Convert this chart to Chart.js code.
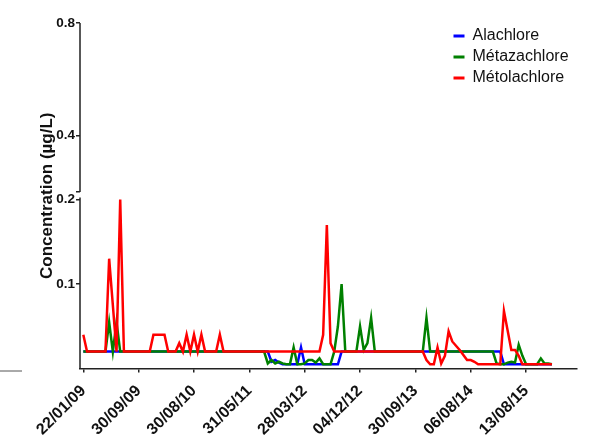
<!DOCTYPE html>
<html><head><meta charset="utf-8">
<script src="https://cdn.jsdelivr.net/npm/chart.js@4.4.0/dist/chart.umd.min.js"></script>
<style>html,body{margin:0;padding:0;background:#fff;}</style>
</head><body>
<canvas id="c" width="599" height="441"></canvas>
<script>
// ---- data ----
const xTickLabels = ['22/01/09','30/09/09','30/08/10','31/05/11','28/03/12','04/12/12','30/09/13','06/08/14','13/08/15'];
const samplesPerLabel = 15;
const seriesNames = ['Alachlore', 'Métazachlore', 'Métolachlore'];
const seriesColors = ['#0000ff', '#008000', '#ff0000'];
const yTitle = 'Concentration (µg/L)';
const yLowTicks = [0.1, 0.2];
const yHighTicks = [0.4, 0.8];
const yBreak = 0.2;

const alachlore = [
  0.02,0.02,0.02,0.02,0.02,0.02,0.02,0.02,0.02,0.02,
  0.02,0.02,0.02,0.02,0.02,0.02,0.02,0.02,0.02,0.02,
  0.02,0.02,0.02,0.02,0.02,0.02,0.02,0.02,0.02,0.02,
  0.02,0.02,0.02,0.02,0.02,0.02,0.02,0.02,0.02,0.02,
  0.02,0.02,0.02,0.02,0.02,0.02,0.02,0.02,0.02,0.02,
  0.02,0.008,0.01,0.007,0.005,0.005,0.005,0.005,0.005,0.025,
  0.005,0.005,0.005,0.005,0.005,0.005,0.005,0.005,0.005,0.005,
  0.02,0.02,0.02,0.02,0.02,0.02,0.02,0.02,0.02,0.02,
  0.02,0.02,0.02,0.02,0.02,0.02,0.02,0.02,0.02,0.02,
  0.02,0.02,0.02,0.02,0.02,0.02,0.02,0.02,0.02,0.02,
  0.02,0.02,0.02,0.02,0.02,0.02,0.02,0.02,0.02,0.02,
  0.02,0.02,0.02,0.02,0.005,0.005,0.005,0.005,0.005,0.005,
  0.005,0.005,0.005,0.005,0.005,0.005,0.005,0.005
];
const metazachlore = [
  0.02,0.02,0.02,0.02,0.02,0.02,0.02,0.055,0.02,0.055,
  0.02,0.02,0.02,0.02,0.02,0.02,0.02,0.02,0.02,0.02,
  0.02,0.02,0.02,0.02,0.02,0.02,0.02,0.02,0.02,0.02,
  0.02,0.02,0.02,0.02,0.02,0.02,0.02,0.02,0.02,0.02,
  0.02,0.02,0.02,0.02,0.02,0.02,0.02,0.02,0.02,0.02,
  0.006,0.01,0.006,0.008,0.006,0.005,0.005,0.025,0.005,0.005,
  0.006,0.01,0.01,0.007,0.012,0.005,0.005,0.005,0.02,0.05,
  0.1,0.02,0.02,0.02,0.02,0.05,0.022,0.03,0.06,0.02,
  0.02,0.02,0.02,0.02,0.02,0.02,0.02,0.02,0.02,0.02,
  0.02,0.02,0.02,0.06,0.02,0.02,0.02,0.02,0.02,0.02,
  0.02,0.02,0.02,0.02,0.02,0.02,0.02,0.02,0.02,0.02,
  0.02,0.02,0.006,0.005,0.005,0.007,0.008,0.007,0.028,0.015,
  0.005,0.005,0.005,0.005,0.012,0.006,0.006,0.005
];
const metolachlore = [
  0.04,0.02,0.02,0.02,0.02,0.02,0.02,0.13,0.075,0.02,
  0.2,0.02,0.02,0.02,0.02,0.02,0.02,0.02,0.02,0.04,
  0.04,0.04,0.04,0.02,0.02,0.02,0.03,0.02,0.04,0.02,
  0.04,0.02,0.04,0.02,0.02,0.02,0.02,0.04,0.02,0.02,
  0.02,0.02,0.02,0.02,0.02,0.02,0.02,0.02,0.02,0.02,
  0.02,0.02,0.02,0.02,0.02,0.02,0.02,0.02,0.02,0.02,
  0.02,0.02,0.02,0.02,0.02,0.04,0.17,0.03,0.02,0.02,
  0.02,0.02,0.02,0.02,0.02,0.02,0.02,0.02,0.02,0.02,
  0.02,0.02,0.02,0.02,0.02,0.02,0.02,0.02,0.02,0.02,
  0.02,0.02,0.02,0.01,0.005,0.005,0.025,0.006,0.015,0.044,
  0.032,0.027,0.022,0.016,0.01,0.01,0.008,0.005,0.005,0.005,
  0.005,0.005,0.005,0.005,0.068,0.045,0.022,0.022,0.015,0.005,
  0.005,0.005,0.005,0.005,0.005,0.005,0.005,0.005
];
const seriesValues = [alachlore, metazachlore, metolachlore];

// ---- chart ----
const FONT = "'Liberation Sans', Arial, sans-serif";
const INK = '#111';
const AXIS = '#222';

const brokenAxis = {
  id: 'brokenAxis',
  afterLayout(chart) {
    const lg = chart.legend;
    if (!lg) return;
    const w = lg.width, h = lg.height;
    lg.left = 448.5; lg.right = lg.left + w;
    lg.top = 23; lg.bottom = lg.top + h;
  },
  afterDraw(chart) {
    const ctx = chart.ctx, yl = chart.scales.y, yh = chart.scales.y2;
    const x0 = chart.chartArea.left;
    ctx.save();
    ctx.strokeStyle = AXIS; ctx.lineWidth = 1.5;
    ctx.beginPath();
    ctx.moveTo(x0, yh.getPixelForValue(yh.max));
    ctx.lineTo(x0, yh.getPixelForValue(yh.min));
    ctx.moveTo(x0, yl.getPixelForValue(yl.min));
    ctx.lineTo(x0, yl.getPixelForValue(yBreak) - 2);
    ctx.stroke();
    ctx.strokeStyle = '#555'; ctx.lineWidth = 1;
    ctx.beginPath(); ctx.moveTo(0, 371); ctx.lineTo(22, 371); ctx.stroke();
    ctx.restore();
  }
};

new Chart(document.getElementById('c'), {
  type: 'line',
  data: {
    datasets: seriesNames.map((name, k) => ({
      label: name,
      data: seriesValues[k].map((v, i) => ({x: i, y: v})),
      borderColor: seriesColors[k],
      backgroundColor: seriesColors[k],
      borderWidth: 2.5,
      pointRadius: 0,
      tension: 0,
      fill: false,
      yAxisID: 'y',
      order: seriesNames.length - 1 - k
    }))
  },
  options: {
    responsive: false,
    animation: false,
    devicePixelRatio: 1,
    events: [],
    layout: { padding: { top: 23, right: 22, bottom: 0, left: 0 } },
    scales: {
      x: {
        type: 'linear', min: -0.9, max: 133.8,
        afterBuildTicks: s => { s.ticks = xTickLabels.map((_, i) => ({ value: i * samplesPerLabel })); },
        afterFit: s => { s.height = 72.5; },
        ticks: {
          autoSkip: false, maxRotation: 45, minRotation: 45, padding: 9,
          font: { family: FONT, size: 16, weight: 'bold' }, color: INK,
          callback: (v, i) => xTickLabels[i]
        },
        grid: { display: true, drawOnChartArea: false, drawTicks: true, tickLength: 4, color: AXIS, lineWidth: 1.5 },
        border: { display: true, color: AXIS, width: 1.5 }
      },
      y: {
        type: 'linear', position: 'left', stack: 'conc', stackWeight: 176.5,
        min: 0, max: 0.209,
        afterBuildTicks: s => { s.ticks = yLowTicks.map(v => ({ value: v })); },
        afterFit: s => { s.width = 32; },
        ticks: { padding: 1, font: { family: FONT, size: 13.5, weight: 'bold' }, color: INK,
                 callback: v => v.toFixed(1) },
        grid: { display: true, drawOnChartArea: false, drawTicks: true, tickLength: 4, color: AXIS, lineWidth: 1.5 },
        border: { display: false }
      },
      y2: {
        type: 'linear', position: 'left', stack: 'conc', stackWeight: 169,
        min: 0.2, max: 0.8,
        afterBuildTicks: s => { s.ticks = [yBreak, ...yHighTicks].map(v => ({ value: v })); },
        afterFit: s => { s.width = 32; },
        ticks: { padding: 1, font: { family: FONT, size: 13.5, weight: 'bold' }, color: INK,
                 callback: v => yHighTicks.includes(v) ? v.toFixed(1) : '' },
        grid: { display: true, drawOnChartArea: false, drawTicks: true, tickLength: 4, color: AXIS, lineWidth: 1.5 },
        border: { display: false }
      }
    },
    plugins: {
      tooltip: { enabled: false },
      title: {
        display: true, text: yTitle, position: 'left', fullSize: false, align: 'center',
        font: { family: FONT, size: 17, weight: 'bold' }, color: INK,
        padding: { top: 37.3, bottom: -9.7 }
      },
      legend: {
        display: true, position: 'chartArea', align: 'start',
        labels: {
          boxWidth: 11, boxHeight: 3, padding: 5,
          font: { family: FONT, size: 16 }, color: INK,
          sort: (a, b) => a.datasetIndex - b.datasetIndex,
          generateLabels: chart => Chart.defaults.plugins.legend.labels.generateLabels(chart)
            .map(it => Object.assign(it, { lineWidth: 0, fillStyle: seriesColors[it.datasetIndex] }))
        }
      }
    }
  },
  plugins: [brokenAxis]
});
</script>
</body></html>
